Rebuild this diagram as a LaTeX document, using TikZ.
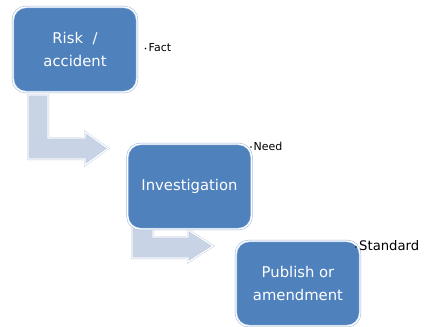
\documentclass[tikz,border=0pt]{standalone}
\usepackage{fontspec}
\setmainfont{DejaVu Sans}
\definecolor{boxblue}{RGB}{79,129,189}
\definecolor{boxedge}{RGB}{150,180,220}
\definecolor{arrowfill}{RGB}{201,211,230}
\definecolor{arrowedge}{RGB}{185,198,222}
\begin{document}
\begin{tikzpicture}[x=1pt,y=-1pt,
  stepbox/.style={rectangle, rounded corners=13pt, minimum width=124pt, minimum height=85pt,
    fill=boxblue, draw=boxedge, double=white, double distance=1.4pt, line width=0.5pt,
    text=white, align=center, font=\fontsize{14.8}{23}\selectfont, inner sep=0pt},
  blockarrow/.style={fill=arrowfill, draw=arrowedge, double=white, double distance=1.2pt, line width=0.4pt},
  note/.style={anchor=west, inner sep=0pt, text=black},
  dot/.style={circle, fill=black, inner sep=0pt, minimum size=1.6pt}]
\useasboundingbox (0,0) rectangle (424,327);

% block arrows (drawn first, so the boxes cover their tails)
\draw[blockarrow] (28,95) -- (48,95) -- (48,138) -- (85,138) -- (85,132) -- (108,148.5)
  -- (85,165) -- (85,159) -- (28,159) -- cycle;
\draw[blockarrow] (132,200) -- (153,200) -- (153,237) -- (188,237) -- (188,230) -- (213,246)
  -- (188,262) -- (188,258) -- (132,258) -- cycle;

% process boxes
\node[stepbox] (risk) at (75,49.5) {Risk \ /\\accident};
\node[stepbox] (inv) at (189.5,186.5) {Investigation};
\node[stepbox] (pub) at (298,283.5) {Publish or\\amendment};

% side notes
\node[dot] (dfact) at (145.5,48.5) {};
\node[note, font=\fontsize{11}{13}\selectfont] (fact) at (148.5,48) {Fact};
\node[dot] (dneed) at (251,147) {};
\node[note, font=\fontsize{11}{13}\selectfont] (need) at (253.5,146) {Need};
\node[dot] (dstd) at (356,247) {};
\node[note, font=\fontsize{13.2}{16}\selectfont] (std) at (359,246) {Standard};
\end{tikzpicture}
\end{document}
